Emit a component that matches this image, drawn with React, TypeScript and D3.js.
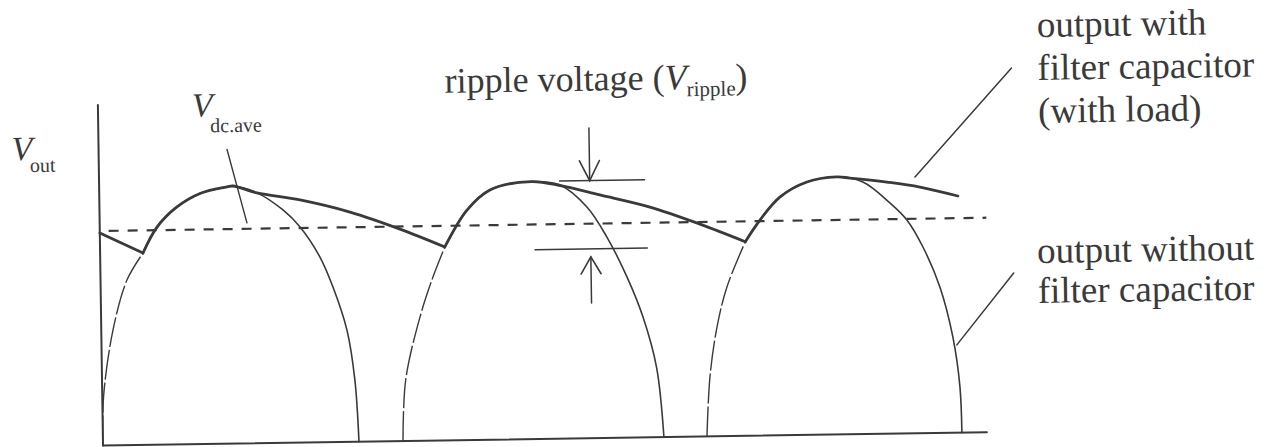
import * as d3 from "d3";

// time runs 0..100 across the trace, voltage is a fraction of the peak Vp
type Pt = [number, number];

// output without filter capacitor: three rectified half-cycles
const archOne: Pt[] = [
  [0, 0], [0.15, 0.19], [1.33, 0.448], [2.99, 0.641], [4.85, 0.745], [6.48, 0.845],
  [8.77, 0.922], [11.4, 0.973], [14.47, 0.997], [15.15, 1], [17.85, 0.972],
  [20.76, 0.904], [22.66, 0.837], [24.86, 0.719], [26.28, 0.602], [27.79, 0.434],
  [28.6, 0.24], [28.96, 0],
];
const archTwo: Pt[] = [
  [33.94, 0], [34.35, 0.237], [36.07, 0.48], [37.61, 0.635], [39.0, 0.751],
  [41.57, 0.893], [44.2, 0.97], [48.9, 1], [52.13, 0.985], [55.14, 0.898],
  [57.35, 0.78], [59.55, 0.624], [61.29, 0.468], [62.75, 0.27], [63.46, 0],
];
const archThree: Pt[] = [
  [68.33, 0], [68.77, 0.231], [69.65, 0.424], [70.84, 0.579], [73.0, 0.754],
  [74.69, 0.837], [76.98, 0.925], [80.07, 0.982], [83.47, 1], [86.4, 0.979],
  [89.42, 0.896], [91.31, 0.829], [93.08, 0.723], [94.93, 0.567], [96.31, 0.372],
  [97.03, 0.177], [97.17, 0],
];
// where the capacitor starts charging again on each half-cycle
const cusps = [4.85, 39.0, 73.0];

// output with filter capacitor (with load), one piece per charge/discharge
const filterLead: Pt[] = [[0, 0.825], [4.85, 0.745]];
const filterCycleOne: Pt[] = [
  [4.85, 0.745], [6.48, 0.845], [8.77, 0.922], [11.4, 0.973], [14.47, 0.997],
  [15.15, 1], [17.85, 0.972], [22.7, 0.942], [28.33, 0.892], [33.96, 0.823], [39.0, 0.751],
];
const filterCycleTwo: Pt[] = [
  [39.0, 0.751], [41.57, 0.893], [44.2, 0.97], [48.9, 1], [52.35, 0.981],
  [56.63, 0.944], [62.27, 0.894], [67.89, 0.825], [73.0, 0.754],
];
const filterCycleThree: Pt[] = [
  [73.0, 0.754], [74.69, 0.837], [76.98, 0.925], [80.07, 0.982], [83.47, 1],
  [84.93, 0.995], [89.12, 0.977], [92.84, 0.956], [97.12, 0.919],
];

const dcAverage = 0.833;
const dcSpan = [1.0, 100.3];
const rippleTop: Pt[] = [[52.1, 1.0], [61.7, 1.0]];
const rippleBottom: Pt[] = [[49.2, 0.735], [61.9, 0.735]];
const rippleArrowDown: Pt[] = [[55.5, 1.205], [55.5, 1.0]];
const rippleArrowUp: Pt[] = [[55.5, 0.525], [55.5, 0.704]];
const axisTop = 1.322;
const axisEnd = 100;

// leader lines from the labels
const leaderDc: Pt[] = [[14.53, 1.142], [16.66, 0.856]];
const leaderWith: Pt[] = [[92.3, 0.995], [103.4, 1.413]];
const leaderWithout: Pt[] = [[96.75, 0.341], [103.3, 0.617]];

const labelWith = ["output with", "filter capacitor", "(with load)"];
const labelWithout = ["output without", "filter capacitor"];

const ink = "#3a3a3a";
const font = "'Liberation Serif', 'DejaVu Serif', serif";

export default function App() {
  const x = d3.scaleLinear().domain([0, 100]).range([103, 987]);
  const y = d3.scaleLinear().domain([0, 1]).range([445.5, 188]);

  const smooth = d3
    .line<Pt>()
    .x((d) => x(d[0]))
    .y((d) => y(d[1]))
    .curve(d3.curveCatmullRom.alpha(0.5));
  const straight = d3
    .line<Pt>()
    .x((d) => x(d[0]))
    .y((d) => y(d[1]));

  const arches = [archOne, archTwo, archThree];
  const filterPieces = [filterLead, filterCycleOne, filterCycleTwo, filterCycleThree];

  // open arrowhead pointing along the last segment of a shaft
  const arrowHead = (shaft: Pt[], len: number, half: number) => {
    const tx = x(shaft[1][0]);
    const ty = y(shaft[1][1]);
    const dir = Math.sign(y(shaft[1][1]) - y(shaft[0][1]));
    return `M${tx - half},${ty - dir * len}L${tx},${ty}L${tx + half},${ty - dir * len}`;
  };

  return (
    <svg
      width={1266}
      height={447}
      style={{ position: "absolute", left: 0, top: 0, background: "#fff" }}
    >
      <rect width={1266} height={447} fill="#fff" />
      <g transform="rotate(-0.86 103 445.5)" fill="none" stroke={ink} strokeLinecap="round">
        {/* axes */}
        <path d={straight([[0, 0], [0, axisTop]]) ?? ""} strokeWidth={2} />
        <path d={straight([[0, 0], [axisEnd, 0]]) ?? ""} strokeWidth={2} />

        {/* unfiltered half-cycles */}
        {arches.map((pts, i) => {
          const rise = pts.filter((p) => p[0] <= cusps[i]);
          const rest = pts.filter((p) => p[0] >= cusps[i]);
          return (
            <g key={i}>
              <path
                d={smooth(rise) ?? ""}
                strokeWidth={1.4}
                strokeDasharray="30 3"
                strokeLinecap="butt"
              />
              <path d={smooth(rest) ?? ""} strokeWidth={1.6} />
            </g>
          );
        })}

        {/* Vdc average */}
        <path
          d={straight([[dcSpan[0], dcAverage], [dcSpan[1], dcAverage]]) ?? ""}
          strokeWidth={2.2}
          strokeDasharray="10 9"
          strokeLinecap="butt"
        />

        {/* filtered output */}
        {filterPieces.map((pts, i) => (
          <path key={i} d={smooth(pts) ?? ""} strokeWidth={2.8} strokeLinejoin="round" />
        ))}

        {/* ripple markers */}
        <path d={straight(rippleTop) ?? ""} strokeWidth={1.5} />
        <path d={straight(rippleBottom) ?? ""} strokeWidth={1.5} />
        <path d={straight(rippleArrowDown) ?? ""} strokeWidth={1.5} />
        <path d={arrowHead(rippleArrowDown, 20, 10)} strokeWidth={1.6} />
        <path d={straight(rippleArrowUp) ?? ""} strokeWidth={1.5} />
        <path d={arrowHead(rippleArrowUp, 17, 10)} strokeWidth={1.6} />

        {/* leaders */}
        <path d={straight(leaderDc) ?? ""} strokeWidth={1.4} />
        <path d={straight(leaderWith) ?? ""} strokeWidth={1.5} />
        <path d={straight(leaderWithout) ?? ""} strokeWidth={1.5} />

        <g fill={ink} stroke="none" fontFamily={font}>
          <text x={16} y={159} fontSize={34} fontStyle="italic">V</text>
          <text x={34} y={171} fontSize={20}>out</text>

          <text x={197} y={118} fontSize={34} fontStyle="italic">V</text>
          <text x={215} y={134} fontSize={20}>dc.ave</text>

          <text x={450} y={98} fontSize={36}>
            ripple voltage (
            <tspan fontStyle="italic">V</tspan>
            <tspan fontSize={21} dy={7}>ripple</tspan>
            <tspan dy={-7}>)</tspan>
          </text>

          {labelWith.map((s, i) => (
            <text key={s} x={1043} y={51 + i * 43} fontSize={37}>{s}</text>
          ))}
          {labelWithout.map((s, i) => (
            <text key={s} x={1040} y={277 + i * 40} fontSize={37}>{s}</text>
          ))}
        </g>
      </g>
    </svg>
  );
}
